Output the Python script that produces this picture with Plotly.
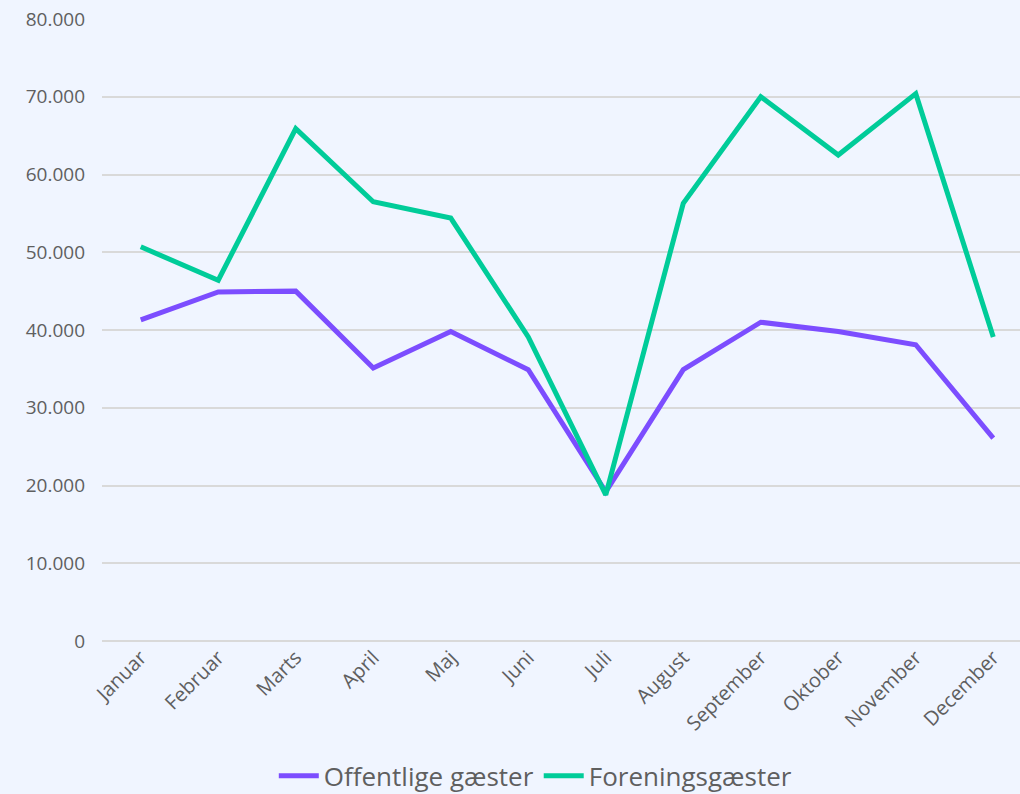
import plotly.graph_objects as go

months = ["Januar", "Februar", "Marts", "April", "Maj", "Juni", "Juli",
          "August", "September", "Oktober", "November", "December"]
offentlige = [41300, 44900, 45000, 35100, 39800, 34900, 19200,
              34900, 41000, 39800, 38100, 26100]
forenings = [50700, 46400, 65900, 56500, 54400, 39100, 18800,
             56300, 70000, 62500, 70400, 39100]
y_ticks = [0, 10000, 20000, 30000, 40000, 50000, 60000, 70000, 80000]

fig = go.Figure()
fig.add_trace(go.Scatter(x=months, y=offentlige, name="Offentlige gæster",
                         mode="lines", line=dict(color="#7c4dff", width=5)))
fig.add_trace(go.Scatter(x=months, y=forenings, name="Foreningsgæster",
                         mode="lines", line=dict(color="#00cc99", width=5)))

fig.update_layout(
    width=1020, height=794,
    paper_bgcolor="#f0f5ff", plot_bgcolor="#f0f5ff",
    margin=dict(l=102, r=0, t=19, b=153, autoexpand=False),
    separators=",.",
    font=dict(family="Open Sans, Noto Sans, sans-serif", color="#5f5f5f", size=17),
    showlegend=True,
    legend=dict(orientation="h", x=0.472, xanchor="center", y=-0.217, yanchor="middle",
                font=dict(size=26, color="#5f5f5f"), bgcolor="rgba(0,0,0,0)",
                itemwidth=40, tracegroupgap=0),
    xaxis=dict(type="category", range=[-0.5, 11.345], tickangle=-45,
               showgrid=False, showline=False, zeroline=False, ticks="",
               tickfont=dict(size=20), automargin=False),
    yaxis=dict(range=[0, 80000], tickvals=y_ticks, tickformat=",d",
               showgrid=True, gridcolor="#d9d9d9", gridwidth=1.5,
               zeroline=True, zerolinecolor="#d9d9d9", zerolinewidth=2,
               showline=False, ticks="", ticklabelstandoff=16,
               tickfont=dict(size=19), automargin=False),
)

fig.write_html("out.html", config={"displayModeBar": False},
               post_script="document.body.style.margin='0';")
